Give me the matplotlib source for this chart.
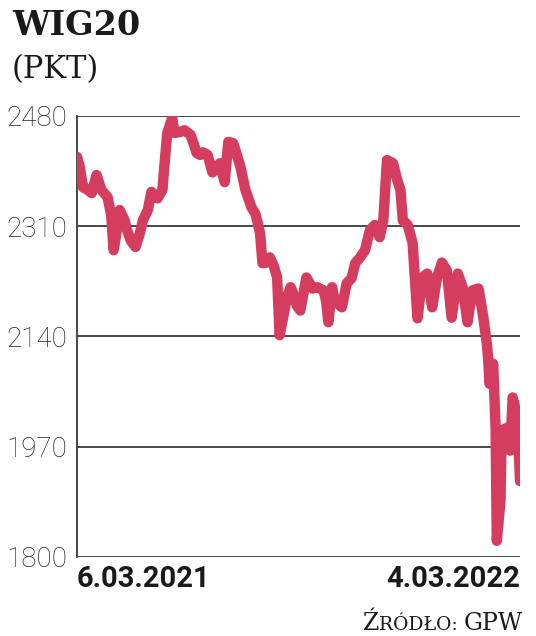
import matplotlib
matplotlib.use("Agg")
import matplotlib.pyplot as plt

# WIG20 index, days counted from 6.03.2021
days = [0, 2, 5, 9, 12, 16, 20, 25, 28, 30, 32, 35, 39, 41, 44, 48, 51, 54, 58, 61,
        66, 70, 72, 74, 78, 80, 84, 88, 93, 96, 98, 101, 103, 107, 111, 115, 117, 121, 124, 128,
        131, 134, 138, 143, 146, 148, 150, 152, 155, 158, 161, 164, 166, 170, 172, 175, 178, 180, 183, 186,
        188, 193, 197, 202, 204, 206, 209, 211, 217, 221, 225, 228, 232, 236, 240, 244, 248, 251, 254, 259,
        262, 265, 267, 271, 275, 279, 283, 287, 291, 295, 299, 303, 307, 312, 316, 320, 324, 329, 333, 336,
        337, 338, 341, 343, 344, 347, 348, 352, 355, 357, 361, 363]
values = [2417, 2404, 2370, 2366, 2361, 2389, 2366, 2355, 2328, 2273, 2296, 2335, 2319, 2304, 2288, 2278, 2296, 2319, 2335, 2363,
          2353, 2366, 2412, 2454, 2477, 2454, 2455, 2458, 2451, 2435, 2423, 2420, 2424, 2420, 2393, 2400, 2407, 2378, 2440, 2438,
          2420, 2401, 2366, 2339, 2330, 2316, 2299, 2253, 2254, 2262, 2250, 2231, 2142, 2180, 2200, 2216, 2203, 2188, 2180, 2211,
          2231, 2214, 2216, 2211, 2196, 2162, 2216, 2196, 2185, 2222, 2230, 2253, 2262, 2273, 2304, 2312, 2293, 2319, 2412, 2407,
          2384, 2366, 2319, 2312, 2284, 2168, 2231, 2237, 2185, 2231, 2254, 2242, 2169, 2237, 2216, 2162, 2211, 2214, 2169, 2126,
          2103, 2067, 2098, 1999, 1825, 1887, 1995, 1999, 1964, 2046, 2015, 1917]

y_ticks = [1800, 1970, 2140, 2310, 2480]
x_ticks = [0, 363]
x_labels = ["6.03.2021", "4.03.2022"]

fig = plt.figure(figsize=(5.36, 6.36), dpi=100)
ax = fig.add_axes([77 / 536, 1 - 557 / 636, (520 - 77) / 536, (557 - 116) / 636])

for y in y_ticks:
    ax.axhline(y, color="#3a3a3a", lw=1.3, zorder=1)
ax.plot(days, values, color="#d43d5e", lw=7.5, solid_capstyle="round",
        solid_joinstyle="round", zorder=3)

ax.set_xlim(0, 363)
ax.set_ylim(1800, 2480)
for s in ["top", "right", "bottom"]:
    ax.spines[s].set_visible(False)
ax.spines["left"].set_color("#3a3a3a")
ax.spines["left"].set_linewidth(1.3)

ax.set_yticks(y_ticks)
ax.set_yticklabels([str(v) for v in y_ticks], family="Roboto", fontweight="light",
                   fontsize=20, color="#222222")
ax.tick_params(axis="y", length=0, pad=7)

ax.set_xticks(x_ticks)
ax.set_xticklabels(x_labels, family="Roboto", fontsize=21,
                   fontweight="bold", color="#1a1a1a")
ax.tick_params(axis="x", length=0, pad=6)
xl = ax.get_xticklabels()
xl[0].set_ha("left")
xl[0].set_x(-4 / 443 * 363)
xl[1].set_ha("right")

fig.text(12 / 536, 1 - 35 / 636, "WIG20", family="DejaVu Serif", fontweight="bold",
         fontsize=24, color="#1a1a1a")
fig.text(12 / 536, 1 - 78 / 636, "(PKT)", family="DejaVu Serif", fontsize=22,
         color="#1a1a1a")

# source line in small caps, right-aligned at x=523
pieces = [("Ź", 17), ("RÓDŁO: ", 13.5), ("GPW", 17)]
renderer = fig.canvas.get_renderer()
texts = []
for s, size in pieces:
    t = fig.text(0, 1 - 630 / 636, s, family="DejaVu Serif", fontsize=size, color="#1a1a1a")
    texts.append(t)
widths = [t.get_window_extent(renderer).width for t in texts]
x = 523 - sum(widths)
for t, w in zip(texts, widths):
    t.set_x(x / 536)
    x += w

plt.savefig("out.png", dpi=100)
